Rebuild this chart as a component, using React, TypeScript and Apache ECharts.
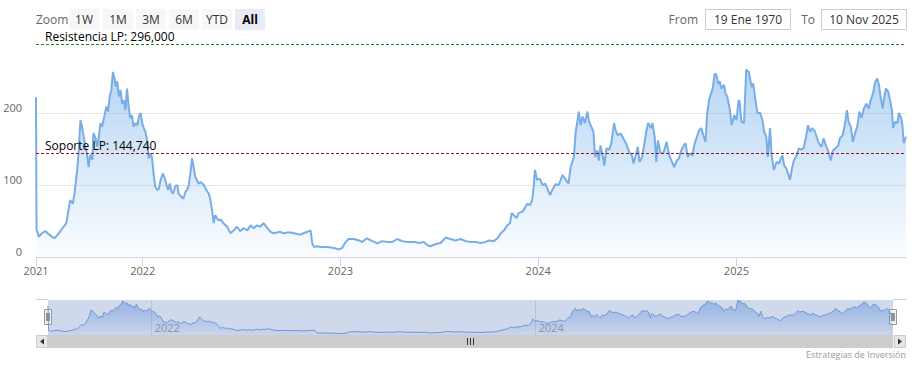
import React, { useEffect, useRef } from 'react';
import * as echarts from 'echarts';

// ---------- DATA ----------
const dates: string[] = [
  '2021-06-18','2021-06-19','2021-06-21','2021-06-23','2021-06-29','2021-07-05','2021-07-11','2021-07-18','2021-07-22','2021-07-27',
  '2021-08-02','2021-08-08','2021-08-13','2021-08-17','2021-08-20','2021-08-25','2021-08-28','2021-09-02','2021-09-05','2021-09-08',
  '2021-09-11','2021-09-14','2021-09-17','2021-09-20','2021-09-23','2021-09-26','2021-09-30','2021-10-02','2021-10-06','2021-10-09',
  '2021-10-12','2021-10-15','2021-10-18','2021-10-22','2021-10-26','2021-10-29','2021-11-01','2021-11-04','2021-11-07','2021-11-10',
  '2021-11-12','2021-11-15','2021-11-18','2021-11-21','2021-11-24','2021-11-27','2021-11-30','2021-12-03','2021-12-06','2021-12-09',
  '2021-12-12','2021-12-15','2021-12-19','2021-12-22','2021-12-25','2021-12-28','2021-12-31',
  '2022-01-03','2022-01-06','2022-01-09','2022-01-12','2022-01-15','2022-01-18','2022-01-21','2022-01-24','2022-01-28','2022-01-31',
  '2022-02-03','2022-02-07','2022-02-11','2022-02-14','2022-02-17','2022-02-20','2022-02-23','2022-02-26','2022-03-02','2022-03-06',
  '2022-03-08','2022-03-13','2022-03-17','2022-03-21','2022-03-24','2022-03-27','2022-03-30','2022-04-02','2022-04-05','2022-04-08',
  '2022-04-11','2022-04-14','2022-04-18','2022-04-21','2022-04-24','2022-04-27','2022-04-30','2022-05-03','2022-05-06','2022-05-09',
  '2022-05-12','2022-05-15','2022-05-18','2022-05-21','2022-05-25','2022-05-30','2022-06-06','2022-06-12','2022-06-18','2022-06-24',
  '2022-06-30','2022-07-06','2022-07-13','2022-07-19','2022-07-25','2022-07-31','2022-08-06','2022-08-12','2022-08-19','2022-08-25',
  '2022-08-31','2022-09-06','2022-09-12','2022-09-18','2022-09-25','2022-10-01','2022-10-07','2022-10-13','2022-10-19','2022-10-25',
  '2022-11-01','2022-11-07','2022-11-10','2022-11-13','2022-11-19','2022-11-25','2022-12-08','2022-12-20','2022-12-29',
  '2023-01-04','2023-01-10','2023-01-16','2023-01-26','2023-02-04','2023-02-10','2023-02-19','2023-03-01','2023-03-10','2023-03-19',
  '2023-03-28','2023-04-07','2023-04-16','2023-04-25','2023-05-04','2023-05-17','2023-05-26','2023-06-04','2023-06-10','2023-06-16',
  '2023-06-26','2023-07-05','2023-07-14','2023-07-23','2023-08-01','2023-08-11','2023-08-20','2023-08-29','2023-09-07','2023-09-17',
  '2023-09-26','2023-10-02','2023-10-11','2023-10-18','2023-10-24','2023-10-30','2023-11-05','2023-11-10','2023-11-13','2023-11-17',
  '2023-11-22','2023-11-26','2023-12-03','2023-12-09','2023-12-12','2023-12-17','2023-12-21','2023-12-24','2023-12-26','2023-12-30',
  '2024-01-04','2024-01-09','2024-01-14','2024-01-18','2024-01-23','2024-01-27','2024-02-02','2024-02-08','2024-02-15','2024-02-21',
  '2024-02-26','2024-03-01','2024-03-07','2024-03-10','2024-03-16','2024-03-19','2024-03-23','2024-03-27','2024-04-01','2024-04-04',
  '2024-04-08','2024-04-12','2024-04-15','2024-04-19','2024-04-22','2024-04-25','2024-04-29','2024-05-02','2024-05-06','2024-05-11',
  '2024-05-15','2024-05-20','2024-05-23','2024-05-27','2024-06-01','2024-06-06','2024-06-11','2024-06-17','2024-06-22','2024-06-25',
  '2024-06-29','2024-07-03','2024-07-06','2024-07-11','2024-07-16','2024-07-19','2024-07-22','2024-07-27','2024-07-30','2024-08-03',
  '2024-08-06','2024-08-09','2024-08-14','2024-08-20','2024-08-25','2024-08-30','2024-09-03','2024-09-08','2024-09-13','2024-09-17',
  '2024-09-21','2024-09-26','2024-09-29','2024-10-03','2024-10-07','2024-10-12','2024-10-15','2024-10-20','2024-10-24','2024-10-28',
  '2024-11-01','2024-11-05','2024-11-08','2024-11-12','2024-11-18','2024-11-22','2024-11-25','2024-11-28','2024-12-01','2024-12-04',
  '2024-12-09','2024-12-12','2024-12-15','2024-12-20','2024-12-23','2024-12-28',
  '2025-01-01','2025-01-05','2025-01-07','2025-01-10','2025-01-15','2025-01-19','2025-01-24','2025-01-29','2025-02-01','2025-02-06',
  '2025-02-09','2025-02-14','2025-02-18','2025-02-21','2025-02-25','2025-02-28','2025-03-04','2025-03-07','2025-03-11','2025-03-16',
  '2025-03-21','2025-03-24','2025-03-27','2025-03-30','2025-04-03','2025-04-07','2025-04-10','2025-04-13','2025-04-17','2025-04-22',
  '2025-04-26','2025-04-30','2025-05-05','2025-05-09','2025-05-13','2025-05-17','2025-05-21','2025-05-26','2025-05-29','2025-06-02',
  '2025-06-07','2025-06-11','2025-06-15','2025-06-19','2025-06-24','2025-06-28','2025-07-03','2025-07-08','2025-07-11','2025-07-16',
  '2025-07-20','2025-07-24','2025-07-27','2025-07-31','2025-08-04','2025-08-08','2025-08-12','2025-08-16','2025-08-20','2025-08-24',
  '2025-08-29','2025-09-02','2025-09-06','2025-09-10','2025-09-14','2025-09-18','2025-09-21','2025-09-25','2025-09-28','2025-10-01',
  '2025-10-04','2025-10-08','2025-10-12','2025-10-15','2025-10-17','2025-10-21','2025-10-25','2025-10-28','2025-10-31','2025-11-03',
  '2025-11-06','2025-11-09','2025-11-10',
];

const prices: number[] = [
  222, 37, 35, 28, 33, 36, 32, 28, 26, 30,
  36, 42, 47, 65, 79, 74, 88, 121, 149, 190,
  181, 167, 153, 144, 125, 142, 135, 172, 165, 153,
  167, 186, 181, 195, 209, 202, 223, 232, 257, 248,
  237, 244, 223, 232, 213, 218, 204, 234, 209, 193,
  197, 181, 186, 183, 195, 200, 186,
  179, 174, 162, 137, 144, 139, 116, 98, 93, 95,
  107, 116, 109, 100, 93, 102, 91, 88, 98, 100,
  88, 84, 81, 91, 93, 100, 116, 137, 125, 111,
  107, 102, 104, 102, 100, 95, 91, 88, 79, 65,
  47, 58, 54, 51, 52, 47, 42, 33, 37, 42,
  36, 40, 37, 44, 40, 44, 42, 47, 40, 35,
  33, 34, 35, 33, 34, 34, 33, 32, 31, 33,
  35, 37, 19, 14, 15, 14, 14, 12.5, 10.6,
  12.5, 20, 25, 25, 23, 21, 26, 22, 19, 22,
  21, 21, 25, 22, 21, 21, 19.5, 21, 16.7, 15,
  18, 19.5, 27, 25, 23, 25, 22, 21, 21, 19.5,
  21, 23, 22, 26, 33, 37, 44, 47, 61, 58,
  54, 61, 63, 70, 74, 72, 79, 100, 121, 107,
  109, 100, 102, 95, 86, 93, 101, 100, 114, 107,
  102, 125, 139, 172, 202, 183, 195, 186, 202, 188,
  181, 174, 139, 148, 134, 155, 141, 127, 151, 149,
  158, 186, 176, 169, 172, 165, 158, 146, 141, 130,
  141, 153, 132, 139, 162, 176, 186, 179, 186, 167,
  132, 162, 144, 146, 160, 141, 134, 125, 134, 137,
  148, 155, 158, 139, 144, 141, 155, 167, 176, 179,
  169, 160, 200, 220, 234, 255, 253, 241, 244, 234,
  239, 227, 223, 204, 183, 197,
  190, 218, 216, 188, 186, 260, 257, 236, 241, 213,
  200, 200, 190, 174, 167, 139, 179, 141, 121, 132,
  130, 137, 141, 127, 123, 114, 107, 121, 134, 141,
  151, 149, 151, 165, 183, 174, 179, 174, 167, 158,
  153, 165, 155, 148, 134, 148, 151, 155, 165, 169,
  183, 204, 188, 181, 160, 172, 181, 202, 193, 206,
  213, 206, 218, 227, 243, 248, 239, 218, 206, 223,
  234, 230, 216, 204, 179, 188, 186, 200, 195, 186,
  158, 165, 167,
];

const resistanceValue = 296;
const supportValue = 144.74;
const resistanceName = 'Resistencia LP';
const supportName = 'Soporte LP';
const yearTicks = ['2022-01-01', '2023-01-01', '2024-01-01', '2025-01-01'];
const navigatorYearTicks = ['2022-01-01', '2024-01-01'];
const zoomButtons = ['1W', '1M', '3M', '6M', 'YTD', 'All'];
const selectedButton = 'All';
const fromDate = '19 Ene 1970';
const toDate = '10 Nov 2025';
const creditText = 'Estrategias de Inversión';

// ---------- STYLE ----------
const FONT = '"Open Sans", "Noto Sans", sans-serif';
const LINE_COLOR = '#78ade6';

const toTs = (d: string) => {
  const [y, m, dd] = d.split('-').map(Number);
  return Date.UTC(y, m - 1, dd);
};
const fmtEs = (v: number) => v.toFixed(3).replace('.', ',');
const yearOf = (v: number) => String(new Date(v).getUTCFullYear());

function buildGraphic() {
  const g: any[] = [];
  g.push({ type: 'text', x: 36, y: 19.5, style: { text: 'Zoom', fill: '#666', font: `12px ${FONT}`, verticalAlign: 'middle' } });
  const bx = [69, 103, 136, 169, 202, 235];
  zoomButtons.forEach((b, i) => {
    const sel = b === selectedButton;
    g.push({ type: 'rect', shape: { x: bx[i], y: 9, width: 30, height: 21, r: 0 }, style: { fill: sel ? '#e6ebf5' : '#f7f7f7' } });
    g.push({
      type: 'text', x: bx[i] + 15, y: 19.5,
      style: { text: b, fill: sel ? '#000' : '#333', font: `${sel ? 'bold ' : ''}12px ${FONT}`, align: 'center', verticalAlign: 'middle' },
    });
  });
  g.push({ type: 'text', x: 698, y: 19.5, style: { text: 'From', fill: '#666', font: `12px ${FONT}`, align: 'right', verticalAlign: 'middle' } });
  g.push({ type: 'rect', shape: { x: 705.5, y: 9.5, width: 85, height: 20 }, style: { fill: '#fff', stroke: '#cccccc', lineWidth: 1 } });
  g.push({ type: 'text', x: 748, y: 19.5, style: { text: fromDate, fill: '#333', font: `12px ${FONT}`, align: 'center', verticalAlign: 'middle' } });
  g.push({ type: 'text', x: 815, y: 19.5, style: { text: 'To', fill: '#666', font: `12px ${FONT}`, align: 'right', verticalAlign: 'middle' } });
  g.push({ type: 'rect', shape: { x: 821.5, y: 9.5, width: 85, height: 20 }, style: { fill: '#fff', stroke: '#cccccc', lineWidth: 1 } });
  g.push({ type: 'text', x: 864, y: 19.5, style: { text: toDate, fill: '#333', font: `12px ${FONT}`, align: 'center', verticalAlign: 'middle' } });

  // navigator outline
  g.push({ type: 'line', shape: { x1: 36, y1: 299.5, x2: 48, y2: 299.5 }, style: { stroke: '#cccccc', lineWidth: 1 } });
  g.push({ type: 'line', shape: { x1: 893, y1: 299.5, x2: 906, y2: 299.5 }, style: { stroke: '#cccccc', lineWidth: 1 } });

  // scrollbar
  g.push({ type: 'rect', shape: { x: 36, y: 335, width: 870, height: 13 }, style: { fill: '#f2f2f2' } });
  g.push({ type: 'rect', shape: { x: 48, y: 335, width: 845, height: 13 }, style: { fill: '#cccccc' } });
  g.push({ type: 'rect', shape: { x: 36.5, y: 335.5, width: 11, height: 12 }, style: { fill: '#e6e6e6', stroke: '#cccccc', lineWidth: 1 } });
  g.push({ type: 'polygon', shape: { points: [[44, 338.5], [44, 344.5], [40, 341.5]] }, style: { fill: '#333' } });
  g.push({ type: 'rect', shape: { x: 894.5, y: 335.5, width: 11, height: 12 }, style: { fill: '#e6e6e6', stroke: '#cccccc', lineWidth: 1 } });
  g.push({ type: 'polygon', shape: { points: [[898, 338.5], [898, 344.5], [902, 341.5]] }, style: { fill: '#333' } });
  [467.5, 470.5, 473.5].forEach((x) => {
    g.push({ type: 'line', shape: { x1: x, y1: 338, x2: x, y2: 345 }, style: { stroke: '#333', lineWidth: 1 } });
  });

  // navigator handles
  [44.5, 889.5].forEach((x) => {
    g.push({ type: 'rect', shape: { x, y: 309.5, width: 7, height: 15 }, style: { fill: '#f2f2f2', stroke: '#999', lineWidth: 1 } });
    g.push({ type: 'line', shape: { x1: x + 2.5, y1: 313, x2: x + 2.5, y2: 321 }, style: { stroke: '#333', lineWidth: 1 } });
    g.push({ type: 'line', shape: { x1: x + 4.5, y1: 313, x2: x + 4.5, y2: 321 }, style: { stroke: '#333', lineWidth: 1 } });
  });

  g.push({ type: 'text', x: 906, y: 354, style: { text: creditText, fill: '#999', font: `9px ${FONT}`, align: 'right', verticalAlign: 'middle' } });
  return g;
}

export default function App() {
  const ref = useRef<HTMLDivElement>(null);
  useEffect(() => {
    if (!ref.current) return;
    const chart = echarts.init(ref.current, null, { renderer: 'svg' });
    const seriesData = dates.map((d, i) => [toTs(d), prices[i]]);
    const first = toTs(dates[0]);
    const last = toTs(dates[dates.length - 1]);
    const mainTicks = [first, ...yearTicks.map(toTs)];
    const navTicks = navigatorYearTicks.map(toTs);
    const option: any = {
      animation: false,
      backgroundColor: '#ffffff',
      textStyle: { fontFamily: FONT },
      grid: [
        { left: 36, top: 41, width: 870, height: 216, containLabel: false },
        { left: 48, top: 300, width: 845, height: 35, show: true, backgroundColor: '#d0d9ec', borderWidth: 0, containLabel: false },
      ],
      xAxis: [
        {
          type: 'value', gridIndex: 0, min: first, max: last, scale: true,
          axisLine: { show: true, onZero: false, lineStyle: { color: '#ccd6eb', width: 1 } },
          axisTick: { show: true, length: 9, lineStyle: { color: '#ccd6eb' }, customValues: mainTicks },
          axisLabel: {
            customValues: mainTicks, formatter: (v: number) => yearOf(v),
            color: '#666', fontSize: 11, margin: 8, fontFamily: FONT, hideOverlap: false,
          },
          splitLine: { show: false },
        },
        {
          type: 'value', gridIndex: 1, min: first, max: last, scale: true,
          axisLine: { show: false },
          axisTick: { show: false, customValues: navTicks },
          axisLabel: {
            inside: true, customValues: navTicks, formatter: (v: number) => yearOf(v),
            color: '#8d96a8', fontSize: 11, margin: 2, align: 'left', padding: [0, 0, 0, 3], fontFamily: FONT,
          },
          splitLine: { show: true, lineStyle: { color: '#b9c3d6', width: 1 } },
        },
      ],
      yAxis: [
        {
          type: 'value', gridIndex: 0, min: 0, max: 300, interval: 100,
          axisLine: { show: false }, axisTick: { show: false },
          axisLabel: {
            color: '#666', fontSize: 11, margin: 14, verticalAlign: 'bottom', fontFamily: FONT,
            showMaxLabel: false, formatter: (v: number) => (v >= 300 ? '' : String(v)),
          },
          splitLine: { show: true, lineStyle: { color: ['#e6e6e6', '#e6e6e6', '#e6e6e6', 'rgba(0,0,0,0)'], width: 1 } },
        },
        { type: 'value', gridIndex: 1, min: 0, max: 265, show: false },
      ],
      series: [
        {
          type: 'line', xAxisIndex: 0, yAxisIndex: 0, data: seriesData,
          symbol: 'none', showSymbol: false,
          lineStyle: { color: LINE_COLOR, width: 2 },
          itemStyle: { color: LINE_COLOR },
          areaStyle: {
            color: new echarts.graphic.LinearGradient(0, 0, 0, 1, [
              { offset: 0, color: 'rgba(124,181,236,0.8)' },
              { offset: 1, color: 'rgba(124,181,236,0.05)' },
            ]),
          },
          markLine: {
            silent: true, symbol: 'none', animation: false,
            data: [
              {
                yAxis: resistanceValue,
                lineStyle: { color: '#2a7d2a', type: [3, 2], width: 1 },
                label: {
                  show: true, position: 'insideStartTop', distance: [9, 1],
                  formatter: `${resistanceName}: ${fmtEs(resistanceValue)}`,
                  color: '#000', fontSize: 12, fontFamily: FONT,
                },
              },
              {
                yAxis: supportValue,
                lineStyle: { color: '#a0101a', type: [3, 2], width: 1 },
                label: {
                  show: true, position: 'insideStartTop', distance: [9, 1],
                  formatter: `${supportName}: ${fmtEs(supportValue)}`,
                  color: '#000', fontSize: 12, fontFamily: FONT,
                },
              },
            ],
          },
        },
        {
          type: 'line', xAxisIndex: 1, yAxisIndex: 1, data: seriesData,
          symbol: 'none', showSymbol: false, silent: true,
          lineStyle: { color: '#6d98d6', width: 1 },
          areaStyle: {
            color: new echarts.graphic.LinearGradient(0, 0, 0, 1, [
              { offset: 0, color: 'rgba(95,145,220,0.75)' },
              { offset: 1, color: 'rgba(95,145,220,0.08)' },
            ]),
          },
        },
      ],
      graphic: buildGraphic(),
    };
    chart.setOption(option);
    return () => chart.dispose();
  }, []);
  return (
    <div
      ref={ref}
      style={{ position: 'absolute', left: 0, top: 0, width: 920, height: 366, background: '#fff' }}
    />
  );
}
